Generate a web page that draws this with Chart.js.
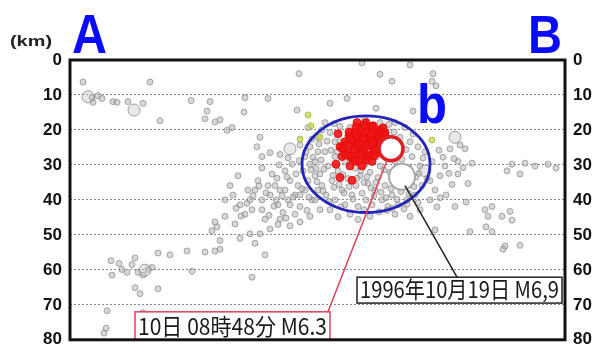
<!DOCTYPE html>
<html><head><meta charset="utf-8">
<script src="https://cdn.jsdelivr.net/npm/chart.js@4.4.0/dist/chart.umd.min.js"></script>
<style>html,body{margin:0;padding:0;background:#fff;}canvas{display:block;}</style>
</head><body>
<canvas id="c" width="596" height="358"></canvas>
<script>
// ---- data (distance along A-B, depth km) ----
const depthTicks = [0, 10, 20, 30, 40, 50, 60, 70, 80];
const sectionEnds = ['A', 'B'];
const regionLabel = 'b';
const unitLabel = '(km)';

const grayQuakes = [
  [2.6,6.3],[4.4,10.8],[5.6,10.2],[6.4,11.0],[4.6,12.1],[8.6,11.9],[9.4,12.1],[11.6,11.9],[14.6,12.4],
  [16,6.3],[24.2,11.6],[28,11.9],[27.4,14.6],[27,16.8],[29,17.7],[30,17.1],[18,17.4],[34.8,14.9],
  [45.8,3.9],[45.4,14.3],[32.4,19.3],[31.4,20.1],[38,22.1],[37.4,24.8],[38.4,27.6],[40,26.5],[42,27],
  [46,24.3],[48.4,22.6],[47,27.6],[49.6,26.2],[58.4,0.8],[62,4.1],[64.4,6.1],[55.4,11],[52,12.4],
  [61.2,13.8],[35,10.8],[39.6,11],[68,1.4],[72.6,3.9],[72.4,6.1],[73.2,7.4],[68.6,14.6],[78,24.3],
  [79,25.4],[76,25.4],[77.6,29],[80.4,29.5],[77.6,32.6],[79.6,35.3],[87.4,31.7],[88.4,29.8],[90,32.6],
  [91,29.5],[93,30.3],[95.6,29.8],[97.2,30.9],[67.4,40],[69.6,40.8],[72,40],[74,39.4],[77,41.9],
  [79.2,40.6],[83,42.8],[84.4,41.9],[88,43.3],[86.4,44.7],[88.4,45.8],[83.6,44.7],[83.2,47.7],[84.4,49.1],
  [80,49.1],[73,48.6],[87,53.2],[90,53],[86.6,54.1],[72,34.5],[73,37.2],[74,33.1],[75,30.3],
  [72.4,29],[70,42.8],[68,44.7],
  [32,35.9],[33.6,33.1],[34,41.4],[35,44.1],[36,40],[37,37.2],[37.6,34.5],[38.4,30.9],[38.4,42.8],
  [40,38.6],[40.4,32.6],[41,35.9],[41.6,41.4],[42,37.2],[43,31.7],[43.6,40],[44,34.5],[44.4,29.8],
  [45,38.6],[45.6,35.9],[46,41.9],[46.6,31.7],[47,37.2],[47.6,34.5],[48,29.8],[48.4,40],[49,33.1],
  [49.6,37.2],[46,46.3],[44,47.4],[42,45.5],[40,48.3],[36,49.7],[34,51],[29.4,47.7],[29,46.3],
  [31,44.7],[33,46.9],[38,49.7],[37,52.4],[30,51.6],[28.4,48.8],[31,40],[39,45.5],[42.6,43.6],
  [45,44.1],[48,44.7],[50,42.8],[32.6,38.6],[35.6,37.2],[38.4,40],[36.4,42.8],[43,37.2],[46,38.6],
  [41.2,40],[39.6,35.9],[44,41.4],
  [41.8,30.0],[43.4,33.4],[45.2,32.6],[46.4,36.8],[44.6,39.2],[42.4,38.8],[40.8,41.8],[39.2,38.0],
  [37.8,36.0],[36.6,38.8],[35.4,41.0],[34.2,44.6],[33.2,42.4],[39.8,44.4],[41.6,47.0],[43.2,45.2],
  [47.4,43.0],[49.2,31.0],[47.8,39.2],[45.8,28.8],[43.6,28.0],[41.4,33.8],
  [8.2,57.4],[9.8,58.2],[10.4,59.9],[11.4,60.7],[12.4,58.5],[13,56.6],[13.6,60.7],[14.6,61.5],
  [15.6,59.9],[16.4,59.3],[8.4,61.5],[13,65.1],[14,66.8],[17.6,65.4],[17.6,55.2],[20,55.7],[23.4,54.6],
  [27,54.9],[29,54.6],[30,54.1],[39,55.7],[24.4,60.4],[36.4,62.1],[7.4,71.7],[7.2,76.7],[6.8,78.1],
  [14.6,72.3],
  [48,24.8],[49,29],[49.6,22.1],[50,32.6],[50.4,35.9],[51,26.2],[51.2,38.6],[51.6,30.3],[52,20.7],
  [52.4,34.5],[53,27.6],[53,40],[53.6,31.7],[54,23.4],[54.4,37.2],[55,29],[55,41.4],[55.6,33.9],
  [56,19.3],[56.4,38.6],[57,30.9],[57.2,35.9],[57.6,41.9],[58,33.1],[58.4,38.1],[59,29.8],[59.2,40],
  [59.6,35.3],[60,32.1],[60.4,41.4],[61,37.2],[61.6,33.6],[62,30.3],[62.4,40],[63,35.9],[63.6,41.9],
  [64,32.1],[64.4,38.6],[65,29],[65.6,41.4],[66,22.1],[67,19.3],[68,23.4],[68.4,27.6],[69,38.6],
  [69.6,24.8],[70,30.3],[70.4,35.9],[71,26.2],[65,17.9],[62,17.9],[59,16.8],[54,19],[51,17.9],
  [47.6,19.3],[49,40],[52,42.8],[56,44.1],[60,44.7],[65,44.1],[55,24.8],[53,23.4],[58,24.8],
  [50.8,31.2],[52.8,36.4],[54.6,32.8],[56.8,27.2],[58.8,35.0],[60.8,38.8],[62.8,31.4],[64.6,34.6],
  [66.2,37.6],[67.8,30.8],[69.2,33.4],[61.4,27.6],[63.4,43.0],[57.6,45.6],[53.6,44.8],[66.8,42.6],
  [47.2,26.4],[48.6,27.8],[49.8,24.0],[50.2,28.6],[51.4,23.2],[52.2,25.8],[53.4,26.2],[48.2,31.4],
  [49.4,34.8],[50.6,37.4],[51.8,40.4],[52.6,33.0],[53.8,35.6],[54.8,38.0],[55.8,36.2],[56.6,39.8],
  [57.4,33.8],[58.2,31.6],[59.4,33.4],[60.2,36.6],[61.2,35.0],[62.2,37.8],[63.2,39.4],[64.2,36.8],
  [65.4,39.8],[66.6,35.4],[67.8,38.2],[68.8,36.2],[69.8,32.4],[70.6,28.0],[71.4,33.8],[66.4,28.4],
  [67.2,25.6],[68.6,21.2],[64.8,20.6],[63.8,18.4],[52.8,18.2],[50.4,20.0],[54.2,42.0],[58.8,42.8],
  [61.8,43.4],[64.4,42.4],[67.4,41.2],
  [73.8,25.8],[74.6,27.8],[75.8,32.4],[76.4,35.6],[75.2,38.6],[73.4,42.0],[76.8,28.2],[78.6,30.8]
];
const grayLargeQuakes = [[3.6,10.5],[12.8,14.3],[77,22.1],[15,60.1],[71,31.7],[44,25.4]];
const minorQuakes = [[47.6,15.7],[48.2,18.8],[46,22.6],[72.4,22.9],[50,22.1]];
const redQuakes = [
  [56,22.1],[57,20.7],[57.6,23.4],[58.4,21.4],[59,24.1],[59.6,19.6],[60,22.3],[60.4,24.8],[61,21.4],
  [61.4,23.4],[62,20.1],[62.4,22.6],[58,26.2],[57,24.8],[55.6,26.2],[55,23.4],[54.4,27.6],[56.4,28.1],
  [57.6,29],[59,27.6],[60,27.1],[58.4,30.3],[54,24.8],[59.2,17.9],[60.6,18.8],[63,20.7],
  [61.6,26.5],[56,30.3],[53.6,21.1],[59.6,22.1],[58,19.3],[57.4,17.9],[60.4,29],[53.2,29.8],[54,33.6],
  [56.4,34.4],[56.6,23.0],[58.8,25.2],[61.0,25.0],[55.8,21.6],[57.2,27.4],
  [55.4,24.2],[56.2,22.8],[56.8,25.6],[57.4,21.6],[57.8,24.0],[58.2,26.8],[58.6,22.4],[59.0,20.4],
  [59.4,24.6],[59.8,27.4],[60.2,21.2],[60.6,23.6],[61.0,25.8],[61.4,20.0],[61.8,22.2],[62.2,24.2],
  [62.6,19.4],[63.0,21.6],[56.0,27.6],[57.0,28.8],[55.0,26.8],[54.4,25.2],[55.8,20.6],[57.2,19.2],
  [58.8,18.6],[60.4,19.0],[59.2,28.6],[60.8,27.4]
];
const mainShock10 = [[64.2,25.4]];
const mainShock1996 = [[66.4,33.4]];
const focusEllipse = {x: 59.2, depth: 29.8, halfWidth: 12.8, halfDepth: 13.8};
const callouts = [
  {text: '10日 08時48分 M6.3', from: [63.4,28.7], to: [51.6,72], box: [13,72,52,80], line: '#e0405a', border: '#e0405a'},
  {text: '1996年10月19日 M6,9', from: [67,35.9], to: [77.4,62.1], box: [57.4,62.1,98.4,69.5], line: '#222', border: '#222'}
];

const toXY = arr => arr.map(p => ({x: p[0], y: p[1]}));

function fitText(ctx, text, x, y, w, font, color) {
  ctx.save();
  ctx.font = font;
  ctx.fillStyle = color;
  ctx.textBaseline = 'alphabetic';
  ctx.textAlign = 'left';
  const m = ctx.measureText(text).width;
  ctx.translate(x, y);
  ctx.scale(w / m, 1);
  ctx.fillText(text, 0, 0);
  ctx.restore();
}

const overlay = {
  id: 'overlay',
  afterDatasetsDraw(chart) {
    const {ctx, chartArea: a, scales: {x, y}} = chart;
    ctx.save();
    const cx = x.getPixelForValue(focusEllipse.x), cy = y.getPixelForValue(focusEllipse.depth);
    const rx = Math.abs(x.getPixelForValue(focusEllipse.x + focusEllipse.halfWidth) - cx);
    const ry = Math.abs(y.getPixelForValue(focusEllipse.depth + focusEllipse.halfDepth) - cy);
    ctx.beginPath();
    ctx.ellipse(cx, cy, rx, ry, 0, 0, Math.PI * 2);
    ctx.strokeStyle = '#2424b8';
    ctx.lineWidth = 2.8;
    ctx.stroke();
    callouts.forEach(c => {
      ctx.beginPath();
      ctx.moveTo(x.getPixelForValue(c.from[0]), y.getPixelForValue(c.from[1]));
      ctx.lineTo(x.getPixelForValue(c.to[0]), y.getPixelForValue(c.to[1]));
      ctx.strokeStyle = c.line; ctx.lineWidth = 1.5; ctx.stroke();
      const bx = x.getPixelForValue(c.box[0]), by = y.getPixelForValue(c.box[1]);
      const bw = x.getPixelForValue(c.box[2]) - bx, bh = y.getPixelForValue(c.box[3]) - by;
      ctx.fillStyle = '#fff';
      ctx.fillRect(bx, by, bw, bh);
      ctx.strokeStyle = c.border; ctx.lineWidth = 1.5;
      ctx.strokeRect(bx, by, bw, bh);
      fitText(ctx, c.text, bx + 3, by + bh - 5, bw - 6, '23px "Noto Sans CJK JP"', '#1a1a1a');
    });
    ctx.strokeStyle = '#111';
    ctx.lineWidth = 3;
    ctx.strokeRect(a.left, a.top, a.right - a.left, a.bottom - a.top);
    ctx.restore();
  },
  afterDraw(chart) {
    const {ctx, chartArea: a} = chart;
    fitText(ctx, sectionEnds[0], a.left + 2, 53, 35, 'bold 56px "Liberation Sans"', '#0a0aff');
    fitText(ctx, sectionEnds[1], a.right - 37, 53, 34, 'bold 53px "Liberation Sans"', '#0a0aff');
    fitText(ctx, regionLabel, 417, 123, 30, 'bold 55px "Liberation Sans"', '#0a0aff');
    fitText(ctx, unitLabel, 10, 46, 42, 'bold 15px "Liberation Sans"', '#222');
  }
};

const tickFont = {family: 'Liberation Sans', size: 17, weight: 'bold'};
const pt = (data, r, bg, bd, bw) => ({data: toXY(data), pointRadius: r, pointBackgroundColor: bg, pointBorderColor: bd, pointBorderWidth: bw, pointHoverRadius: r});

new Chart(document.getElementById('c'), {
  type: 'scatter',
  data: {
    datasets: [
      pt(mainShock10, 12, '#fff', '#e02020', 3.5),
      pt(mainShock1996, 13, '#fff', '#a8a8a8', 2),
      pt(redQuakes, 4, 'rgba(240,20,20,0.9)', 'rgba(230,10,10,0.9)', 1),
      pt(minorQuakes, 3, 'rgba(200,210,90,0.8)', 'rgba(170,190,60,0.9)', 1),
      pt(grayLargeQuakes, 6, 'rgba(190,190,190,0.35)', 'rgba(140,140,140,0.8)', 1),
      pt(grayQuakes, 3, 'rgba(178,178,178,0.5)', 'rgba(140,140,140,0.75)', 1)
    ]
  },
  options: {
    responsive: false,
    animation: false,
    events: [],
    layout: {padding: {top: 60, bottom: 9, left: 0, right: 0}},
    plugins: {legend: {display: false}, tooltip: {enabled: false}},
    scales: {
      x: {type: 'linear', min: 0, max: 99, display: false},
      y: {
        min: 0, max: 80, reverse: true, position: 'left',
        afterFit(s) { s.width = 70; },
        afterBuildTicks(s) { s.ticks = depthTicks.map(v => ({value: v})); },
        ticks: {font: tickFont, color: '#111', padding: 8},
        grid: {drawTicks: false, lineWidth: 1, color: c => (c.tick && (c.tick.value === 0 || c.tick.value === 80)) ? 'rgba(0,0,0,0)' : '#8a8a8a'},
        border: {display: false, dash: [2, 2]}
      },
      y2: {
        min: 0, max: 80, reverse: true, position: 'right',
        afterFit(s) { s.width = 31; },
        afterBuildTicks(s) { s.ticks = depthTicks.map(v => ({value: v})); },
        ticks: {font: tickFont, color: '#111', padding: 8},
        grid: {display: false, drawTicks: false},
        border: {display: false}
      }
    }
  },
  plugins: [overlay]
});
</script>
</body></html>
